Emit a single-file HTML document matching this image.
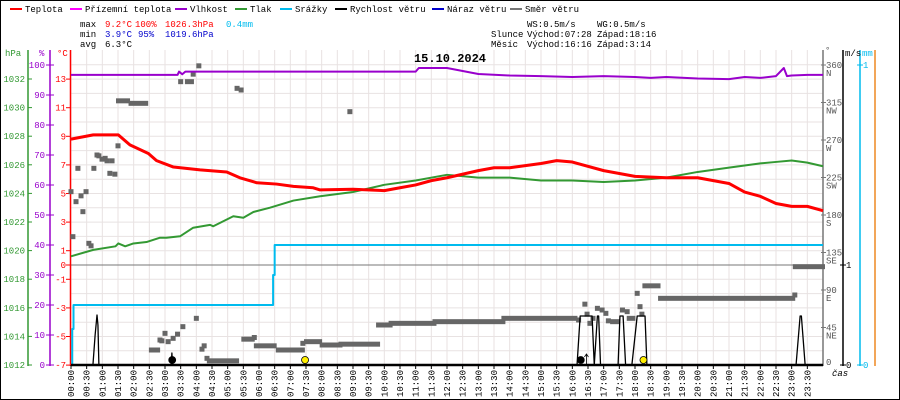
<!DOCTYPE html>
<html><head><meta charset="utf-8">
<style>
body{margin:0;background:#fff}
#wrap{position:relative;width:900px;height:400px;overflow:hidden;background:#fff}
svg text{font-family:"Liberation Mono","DejaVu Sans Mono",monospace;font-size:9px}
</style></head>
<body>
<div id="wrap">
<svg id="c" width="900" height="400" xmlns="http://www.w3.org/2000/svg">
<rect x="0.5" y="0.5" width="899" height="399" fill="#fff" stroke="#000"/>
<g id="grid"></g>
<g id="legend"></g>
<g id="stats"></g>
<g id="axes"></g>
<g id="series"></g>
</svg>
</div>
<script>
// ---- data ----
const tempHours=[0,0.71,1.51,1.88,2.47,2.73,3.27,4.12,4.97,5.39,5.93,6.56,7.1,7.73,7.95,9,10,10.5,11,11.5,12,13,13.5,14,15,15.5,16,17,18,19,20,21,21.5,22,22.5,23,23.5,24];
const tempValues=[8.8,9.1,9.1,8.4,7.8,7.3,6.85,6.65,6.5,6.1,5.75,5.66,5.5,5.4,5.25,5.3,5.2,5.4,5.6,5.9,6.1,6.6,6.8,6.8,7.1,7.3,7.2,6.6,6.2,6.1,6.1,5.7,5.1,4.8,4.3,4.1,4.1,3.8];
const presHours=[0,0.71,1.42,1.51,1.73,1.99,2.41,2.84,3.05,3.48,3.9,4.44,4.54,5.18,5.5,5.82,6.35,7.1,7.95,9,10,11,12,13,14,15,16,17,18,19,20,21,22,22.5,23,23.5,24];
const presValues=[1019.6,1020.05,1020.3,1020.5,1020.3,1020.5,1020.6,1020.9,1020.9,1021,1021.6,1021.8,1021.7,1022.4,1022.3,1022.7,1023.0,1023.5,1023.8,1024.1,1024.6,1024.9,1025.3,1025.1,1025.1,1024.9,1024.9,1024.8,1024.9,1025.1,1025.5,1025.8,1026.1,1026.2,1026.3,1026.15,1025.9];
const humHours=[0,3.4,3.45,3.55,3.65,11,11.1,12,12.5,13,14,15,16,17,18,18.5,19,20,21,21.5,22,22.5,22.75,22.85,23,23.5,24];
const humValues=[96.7,96.7,97.8,96.9,97.8,97.8,99,99,98,97,96.5,96.3,96,96.3,96,95.7,96,95.5,95.3,96,95.7,96.3,99,96.3,96.5,96.7,96.7];
const rainHours=[0,0.04,0.08,6.4,6.45,6.5,24];
const rainValues=[0,0.12,0.2,0.2,0.3,0.4,0.4];
const windHours=[0,0.7,0.77,0.8,0.83,0.86,0.89,3.2,3.22,3.24,16.15,16.25,16.63,16.7,16.8,16.84,16.9,17.46,17.52,17.62,17.7,17.9,18.07,18.32,18.38,23.14,23.27,23.31,23.43,24];
const windValues=[0,0,0.3,0.4,0.5,0.4,0,0,0.12,0,0,0.49,0.49,0,0.49,0.49,0,0,0.49,0.49,0,0,0.49,0.49,0,0,0.49,0.49,0,0];
const dirHours=[0,0.06,0.16,0.22,0.32,0.38,0.48,0.57,0.64,0.73,0.83,0.89,0.99,1.09,1.15,1.24,1.31,1.4,1.5,2.84,2.9,3.0,3.1,3.26,3.4,3.57,3.5,3.9,4.0,4.08,4.18,4.25,4.34,5.3,5.43,5.85,7.4,8.9,16.2,16.4,16.47,16.56,16.66,16.8,16.95,17.07,17.15,17.6,17.75,18.07,18.16,18.22,23.1];
const dirValues=[208,154,196,236,203,184,208,146,143,236,252,251,247,248,245,230,245,229,263,30,29,38,28,32,37,46,340,349,56,359,19,23,8,332,330,33,26,304,54,73,61,50,56,68,66,62,53,66,64,86,70,61,84];
const dirRunStart=[1.5,1.9,2.55,3.7,4.4,5.5,5.9,6.6,7.5,8.0,8.6,9.8,10.2,11.6,13.8,17.27,17.8,18.3,18.8,23.1];
const dirRunEnd=[1.82,2.4,2.78,3.86,5.3,5.8,6.5,7.4,7.95,8.6,9.8,10.2,11.6,13.8,16.1,17.46,17.95,18.75,23.05,24];
const dirRunValue=[317,314,18,340,5,31,23,18,28,24,25,48,50,52,56,52,56,95,80,118];
const tempTicks=[13,11,9,7,5,3,1,0,-1,-3,-5,-7];
const presTicks=[1032,1030,1028,1026,1024,1022,1020,1018,1016,1014,1012];
const humTicks=[100,90,80,70,60,50,40,30,20,10,0];
const dirTicks=[360,315,270,225,180,135,90,45];
const dirNames=["N","NW","W","SW","S","SE","E","NE"];

// ---- scales ----
const X0=71,PW=752;
const xs=h=>X0+h*PW/24;
const yT=t=>265-t*14.3;
const yP=p=>365-(p-1012)*14.3;
const yH=v=>365-v*3;
const yD=d=>365-d*300/360;
const yW=v=>365-v*100;
const yR=m=>365-m*300;
const NS="http://www.w3.org/2000/svg";
function mk(tag,attrs,parent,txt){const e=document.createElementNS(NS,tag);for(const k in attrs)e.setAttribute(k,attrs[k]);if(txt!==undefined)e.textContent=txt;parent.appendChild(e);return e;}
const G=id=>document.getElementById(id);

// grid
const grid=G('grid');
for(let i=0;i<=48;i++){const x=xs(i/2);const l=mk('line',{x1:x,x2:x,y1:50,y2:365,stroke:'#e8e2e2','stroke-width':1},grid);

}
for(let t=-7;t<=14;t++){const y=yT(t);if(y<52)continue;const l=mk('line',{x1:71,x2:823,y1:y,y2:y,stroke:'#e8e2e2','stroke-width':1},grid);

}
const zl=mk('line',{x1:71,x2:823,y1:yT(0),y2:yT(0),stroke:'#777','stroke-width':1},grid);



// legend
const lg=G('legend');
const legItems=[["Teplota","#ff0000",10],["Přízemní teplota","#ff00ff",70],["Vlhkost","#9900cc",175],["Tlak","#339933",235],["Srážky","#00bbee",280],["Rychlost větru","#000",335],["Náraz větru","#0000cc",432],["Směr větru","#777",510]];
legItems.forEach(it=>{const g=mk('g',{},lg);


mk('line',{x1:it[2],x2:it[2]+12,y1:9,y2:9,stroke:it[1],'stroke-width':2},g);
mk('text',{x:it[2]+15,y:12,fill:'#000'},g,it[0]);});

// stats
const st=G('stats');
const stats=[["max",80,24,"#000"],["9.2°C",105,24,"#f00"],["100%",135,24,"#f00"],["1026.3hPa",165,24,"#f00"],["0.4mm",226,24,"#00bbee"],
["min",80,34,"#000"],["3.9°C",105,34,"#00c"],["95%",138,34,"#00c"],["1019.6hPa",165,34,"#00c"],
["avg",80,44,"#000"],["6.3°C",105,44,"#000"],
["WS:0.5m/s",527,24,"#000"],["WG:0.5m/s",597,24,"#000"],
["Slunce",491,34,"#000"],["Východ:07:28",527,34,"#000"],["Západ:18:16",597,34,"#000"],
["Měsíc",491,44,"#000"],["Východ:16:16",527,44,"#000"],["Západ:3:14",597,44,"#000"]];
stats.forEach(s=>{const t=mk('text',{x:s[1],y:s[2]+3,fill:s[3]},st,s[0]);

});
const ttl=mk('text',{x:450,y:62,'text-anchor':'middle',fill:'#000','font-weight':'bold',style:'font-size:12px'},st,"15.10.2024");



// axes
const ax=G('axes');
function axisLine(x,col,name){const l=mk('line',{x1:x,x2:x,y1:50,y2:366,stroke:col,'stroke-width':1.5},ax);

}
axisLine(28,'#339933','pressure-axis');axisLine(50,'#9900cc','humidity-axis');axisLine(70.5,'#ff0000','temperature-axis');
axisLine(823,'#777','direction-axis');axisLine(843,'#000','wind-axis');axisLine(860,'#00bbee','rain-axis');axisLine(875,'#ee8822','extra-axis');
mk('text',{x:5,y:56,fill:'#339933'},ax,"hPa");mk('text',{x:39,y:56,fill:'#9900cc'},ax,"%");mk('text',{x:57,y:56,fill:'#f00'},ax,"°C");
mk('text',{x:825,y:53,fill:'#555'},ax,"°");mk('text',{x:845,y:56,fill:'#000'},ax,"m/s");mk('text',{x:862,y:56,fill:'#00bbee'},ax,"mm");
presTicks.forEach(p=>{const y=yP(p);mk('line',{x1:28,x2:32,y1:y,y2:y,stroke:'#339933'},ax);const t=mk('text',{x:25,y:y+3,'text-anchor':'end',fill:'#339933'},ax,p);

});
humTicks.forEach(v=>{const y=yH(v);mk('line',{x1:46,x2:54,y1:y,y2:y,stroke:'#9900cc'},ax);const t=mk('text',{x:45,y:y+3,'text-anchor':'end',fill:'#9900cc'},ax,v);

});
tempTicks.forEach(v=>{const y=yT(v);mk('line',{x1:66,x2:71,y1:y,y2:y,stroke:'#f00'},ax);const t=mk('text',{x:66,y:y+3,'text-anchor':'end',fill:'#f00'},ax,v);

});
dirTicks.forEach((d,i)=>{const y=yD(d);mk('line',{x1:821,x2:826,y1:y,y2:y,stroke:'#777'},ax);
const t=mk('text',{x:826,y:y+3,fill:'#555'},ax,d);


mk('text',{x:826,y:y+11,fill:'#555'},ax,dirNames[i]);});
mk('text',{x:826,y:yD(0),fill:'#555'},ax,"0");
[0,1].forEach(v=>{const y=yW(v);mk('line',{x1:840,x2:846,y1:y,y2:y,stroke:'#000'},ax);mk('text',{x:846,y:y+3,fill:'#000'},ax,v);});
[0,1].forEach(v=>{const y=yR(v);mk('line',{x1:857,x2:863,y1:y,y2:y,stroke:'#00bbee'},ax);mk('text',{x:863,y:y+3,fill:'#00bbee'},ax,v);});
for(let i=0;i<48;i++){const h=Math.floor(i/2),m=i%2?"30":"00";const lab=String(h).padStart(2,'0')+":"+m;const x=xs(i/2)+3;
mk('line',{x1:x-3,x2:x-3,y1:365,y2:369,stroke:'#000'},ax);
const t=mk('text',{x:0,y:0,'text-anchor':'end',transform:`translate(${x},370) rotate(-90)`,fill:'#000'},ax,lab);

}
mk('text',{x:832,y:376,fill:'#000',style:'font-style:italic'},ax,"čas");

// series
const se=G('series');
function poly(hs,vs,ys,col,w,name,step){let pts=[];for(let i=0;i<hs.length;i++){if(step&&i>0)pts.push(xs(hs[i])+','+ys(vs[i-1]));pts.push(xs(hs[i])+','+ys(vs[i]));}
const p=mk('polyline',{points:pts.join(' '),fill:'none',stroke:col,'stroke-width':w,'stroke-linejoin':'round'},se);

}
// direction
dirRunStart.forEach((s,i)=>{const r=mk('rect',{x:xs(s)-2,y:yD(dirRunValue[i])-2.5,width:xs(dirRunEnd[i])-xs(s)+4,height:5,fill:'#666'},se);

});
dirHours.forEach((h,i)=>{const r=mk('rect',{x:xs(h)-2.5,y:yD(dirValues[i])-2.5,width:5,height:5,fill:'#666'},se);

});
poly(rainHours,rainValues,yR,'#00bbee',2,'rain-line',true);
poly(presHours,presValues,yP,'#339933',2,'pressure-line');
poly(humHours,humValues,yH,'#9900cc',2,'humidity-line');
poly(tempHours,tempValues,yT,'#ff0000',3,'temperature-line');
poly(windHours,windValues,yW,'#000',1.3,'wind-speed-line');
const base=mk('line',{x1:71,x2:823,y1:365,y2:365,stroke:'#000','stroke-width':2.5},se);


[[3.23,'#000','moonset'],[16.27,'#000','moonrise'],[7.47,'#ffee00','sunrise'],[18.27,'#ffee00','sunset']].forEach(s=>{
const c=mk('circle',{cx:xs(s[0]),cy:360,r:3.5,fill:s[1],stroke:'#000','stroke-width':0.8},se);

});
mk('path',{d:`M${xs(16.45)},364 V354 M${xs(16.45)-2},357 L${xs(16.45)},354 L${xs(16.45)+2},357`,stroke:'#000',fill:'none','stroke-width':0.8},se);
</script>
</body></html>
